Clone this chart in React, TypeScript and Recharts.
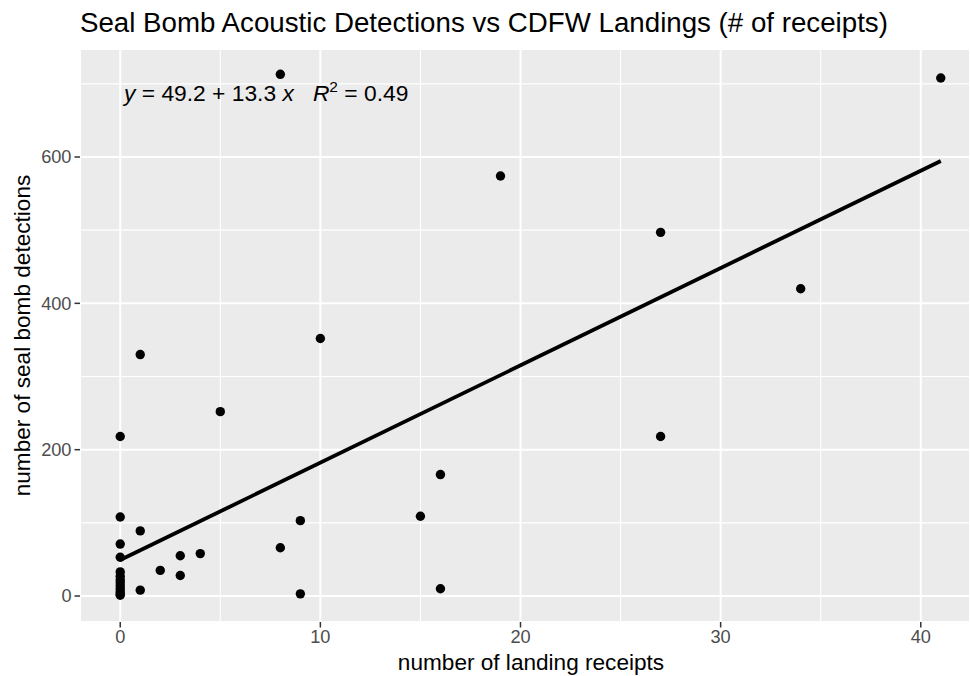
import React from 'react';
import { ScatterChart, Scatter, XAxis, YAxis, CartesianGrid, ReferenceLine, Label } from 'recharts';

// Data
const receiptsX = [0, 0, 0, 0, 0, 0, 0, 0, 0, 0, 0, 0, 0, 1, 1, 1, 2, 3, 3, 4, 5, 8, 8, 9, 9, 10, 15, 16, 16, 19, 27, 27, 34, 41];
const detectionsY = [218, 108, 71, 53, 33, 27, 22, 18, 14, 10, 6, 3, 1, 330, 89, 8, 35, 55, 28, 58, 252, 713, 66, 103, 3, 352, 109, 166, 10, 574, 497, 218, 420, 708];
const fitX = [0, 41];
const fitY = [49.2, 594.5];
const xTicks = [0, 10, 20, 30, 40];
const yTicks = [0, 200, 400, 600];
const xMinor = [5, 15, 25, 35];
const yMinor = [100, 300, 500, 700];
const titleText = 'Seal Bomb Acoustic Detections vs CDFW Landings (# of receipts)';
const xTitle = 'number of landing receipts';
const yTitle = 'number of seal bomb detections';

const points = receiptsX.map((x, i) => ({ x, y: detectionsY[i] }));
const fitLine = fitX.map((x, i) => ({ x, y: fitY[i] }));

const FONT = '"Liberation Sans", Arial, Helvetica, sans-serif';

const Dot = (props: any) => <circle cx={props.cx} cy={props.cy} r={4.7} fill="#000" />;
const NoDot = () => <g />;

export default function App() {
  return (
    <div style={{ position: 'absolute', left: 0, top: 0, width: 970, height: 676, overflow: 'hidden', background: '#fff', fontFamily: FONT }}>
      <ScatterChart width={970} height={676} margin={{ top: 49, right: 0, bottom: 0, left: 0 }}>
        <CartesianGrid stroke="#fff" strokeWidth={2} fill="#EBEBEB" fillOpacity={1} />
        {xMinor.map((v) => (
          <ReferenceLine key={'xm' + v} x={v} stroke="#fff" strokeWidth={1.1} />
        ))}
        {yMinor.map((v) => (
          <ReferenceLine key={'ym' + v} y={v} stroke="#fff" strokeWidth={1.1} />
        ))}
        <XAxis
          type="number"
          dataKey="x"
          domain={[-2.01, 42.46]}
          allowDataOverflow
          ticks={xTicks}
          axisLine={false}
          tickLine={{ stroke: '#333', strokeWidth: 1.5 }}
          tickSize={5.5}
          tickMargin={3}
          height={54}
          tick={{ fill: '#4D4D4D', fontSize: 18.2, fontFamily: FONT }}
        >
          <Label
            content={(p: any) => {
              const vb = p.viewBox;
              return (
                <text x={vb.x + vb.width / 2 + 6} y={670} textAnchor="middle" fontSize={22.6} fill="#000" fontFamily={FONT}>
                  {xTitle}
                </text>
              );
            }}
          />
        </XAxis>
        <YAxis
          type="number"
          dataKey="y"
          domain={[-35.5, 747.6]}
          allowDataOverflow
          ticks={yTicks}
          axisLine={false}
          tickLine={{ stroke: '#333', strokeWidth: 1.5 }}
          tickSize={5.5}
          tickMargin={3}
          width={80}
          tick={{ fill: '#4D4D4D', fontSize: 18.2, fontFamily: FONT }}
        >
          <Label
            content={(p: any) => {
              const vb = p.viewBox;
              const cy = vb.y + vb.height / 2;
              return (
                <text transform={`translate(30, ${cy}) rotate(-90)`} textAnchor="middle" fontSize={22.6} fill="#000" fontFamily={FONT}>
                  {yTitle}
                </text>
              );
            }}
          />
        </YAxis>
        <Scatter data={points} shape={Dot} isAnimationActive={false} />
        <Scatter data={fitLine} shape={NoDot} line={{ stroke: '#000', strokeWidth: 3.8 }} isAnimationActive={false} />
      </ScatterChart>
      <svg width={970} height={676} style={{ position: 'absolute', left: 0, top: 0, pointerEvents: 'none' }}>
        <text x={80} y={32} fontSize={27.7} fill="#000" fontFamily={FONT}>
          {titleText}
        </text>
        <text x={124} y={101} fontSize={22.8} fill="#000" fontFamily={FONT} xmlSpace="preserve">
          <tspan fontStyle="italic">y</tspan>
          <tspan> = 49.2 + 13.3 </tspan>
          <tspan fontStyle="italic">x</tspan>
          <tspan>   </tspan>
          <tspan fontStyle="italic">R</tspan>
          <tspan fontSize={15.5} dy={-9}>2</tspan>
          <tspan dy={9}> = 0.49</tspan>
        </text>
      </svg>
    </div>
  );
}
